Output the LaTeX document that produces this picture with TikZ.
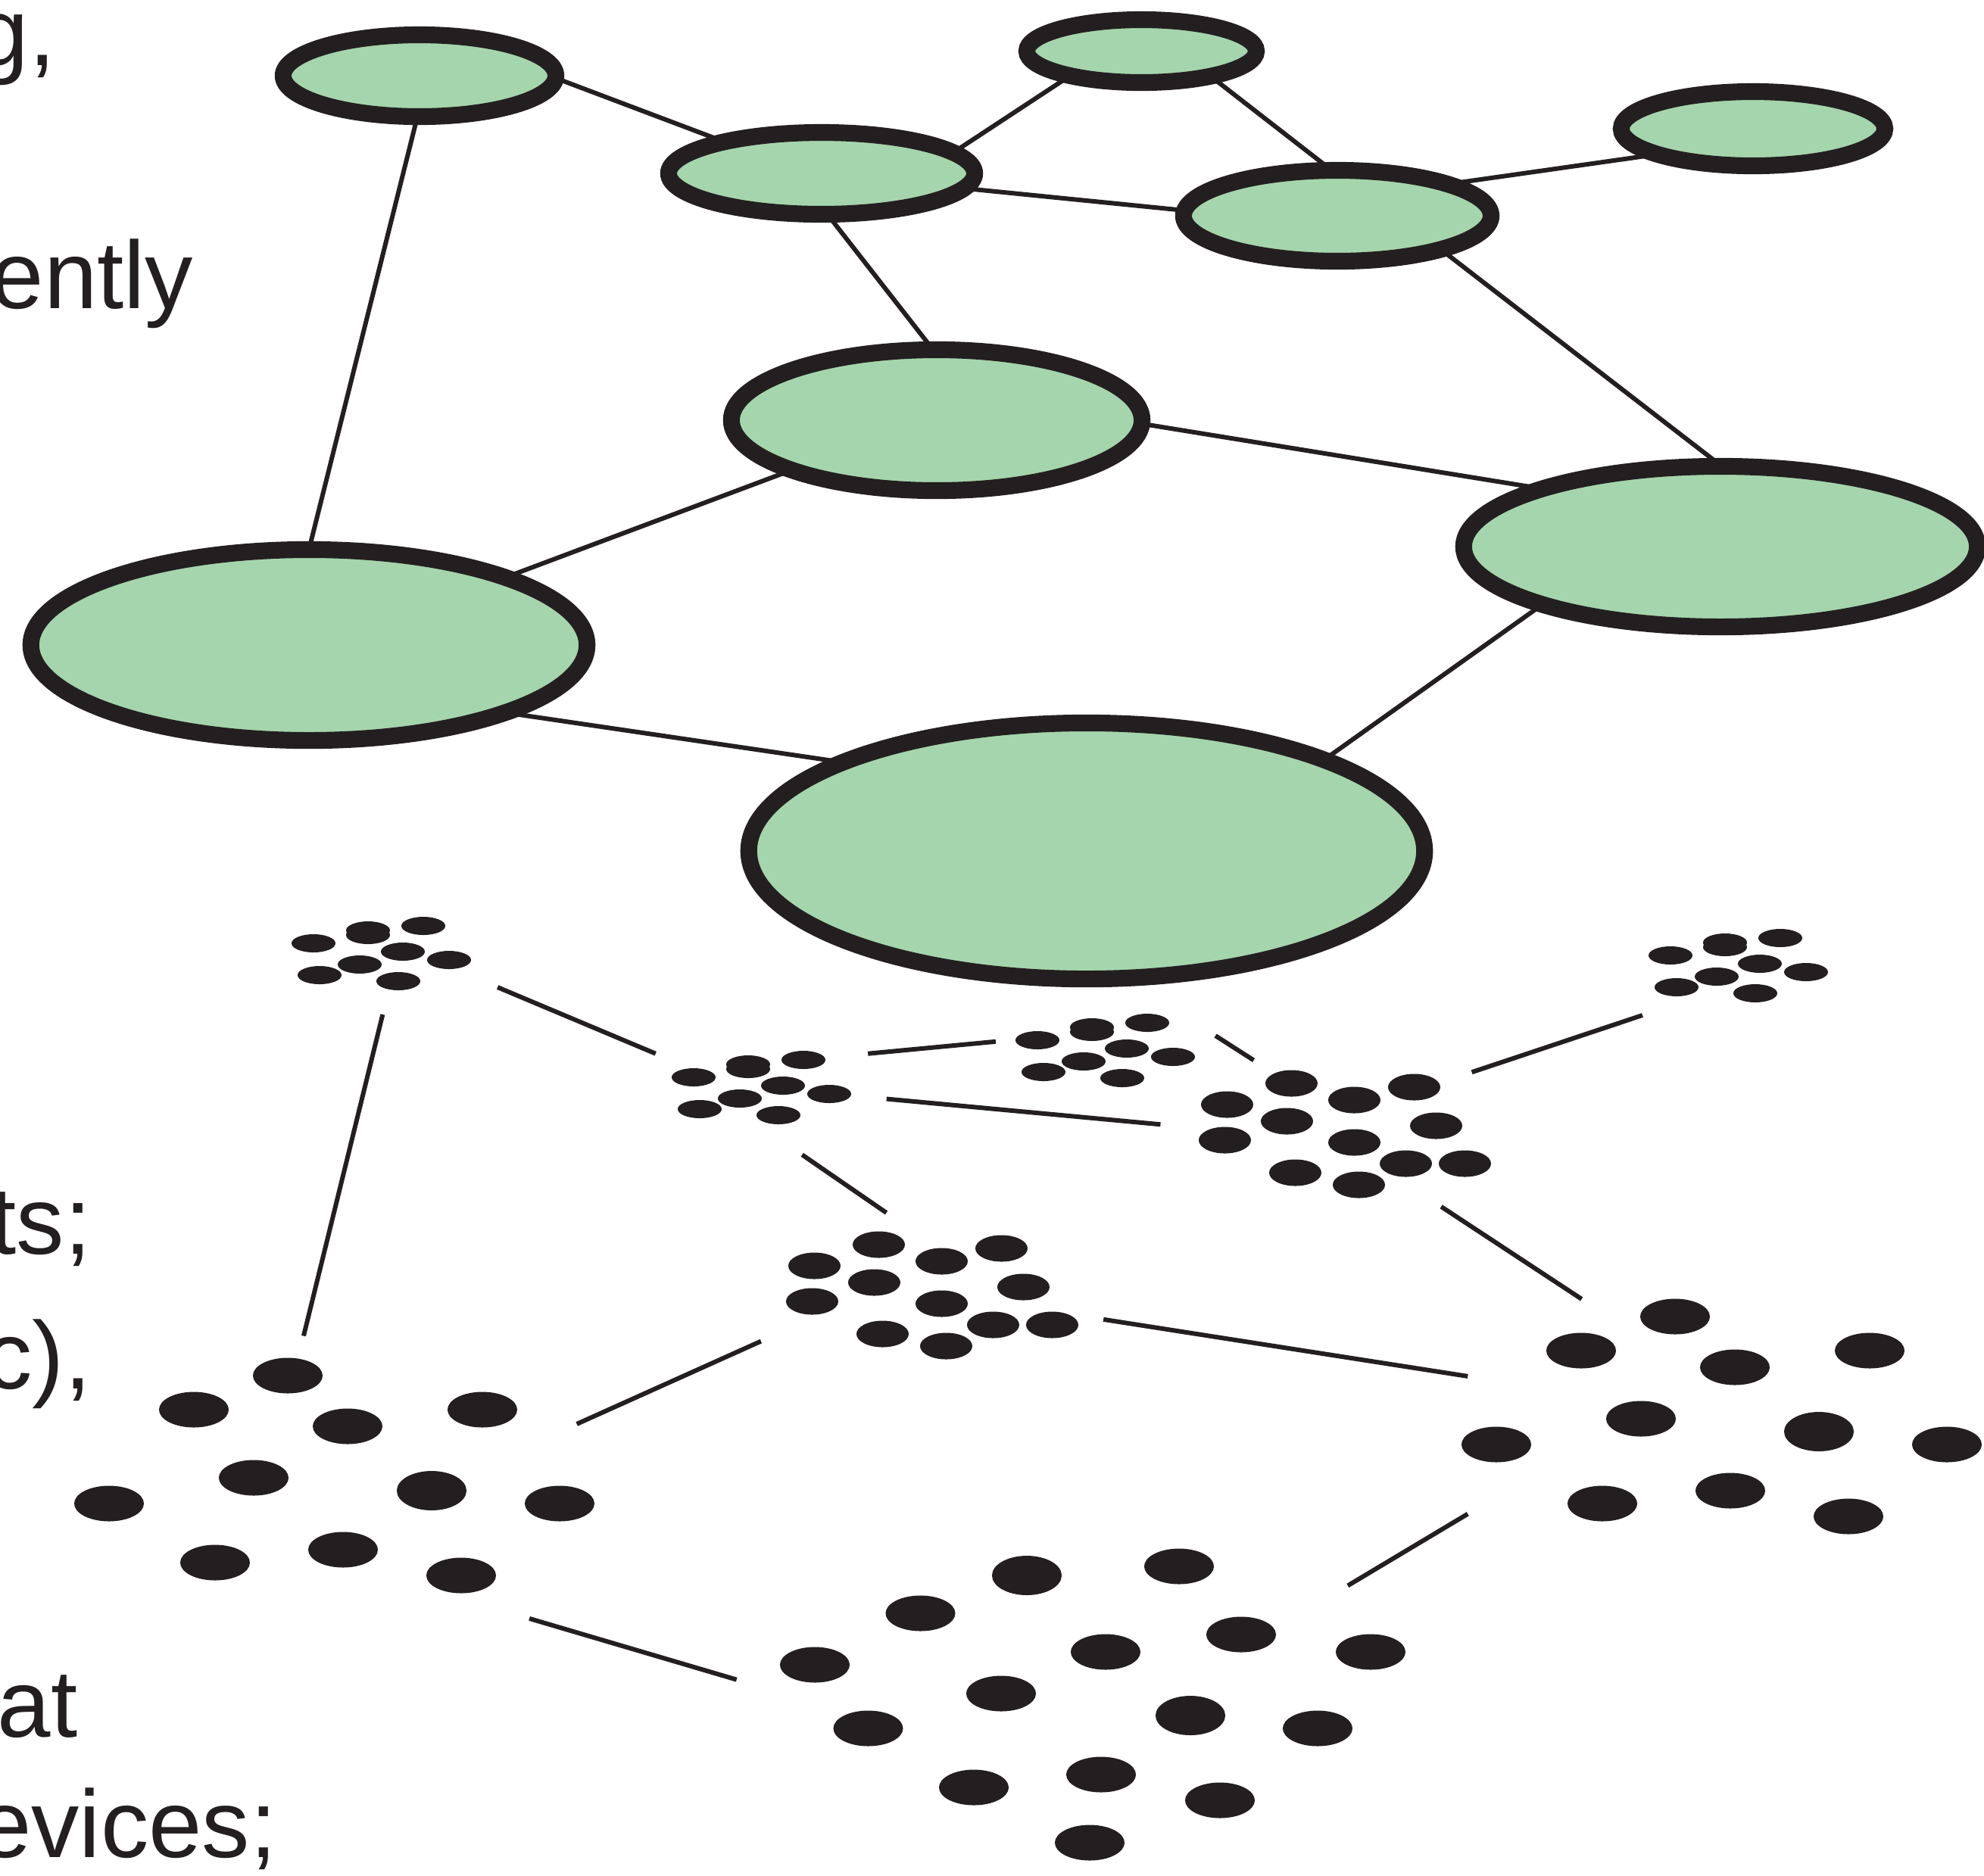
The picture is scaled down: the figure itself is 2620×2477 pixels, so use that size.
\documentclass[tikz,border=0pt]{standalone}
\usepackage{fontspec}
\setmainfont{Liberation Sans}
\usetikzlibrary{shapes.geometric}
\definecolor{ink}{RGB}{35, 31, 32}
\definecolor{leaf}{RGB}{165, 213, 172}
\pgfdeclarelayer{background}
\pgfsetlayers{background,main}
\tikzset{
  pics/fewdots/.style={code={
    \foreach \dx/\dy in {-90/-17, -18/-34, -18/-28, 55/-40, 28/-6, 89/5, -29/11, -82/25, 22/33}
      \fill[ink] (\dx,\dy) ellipse [x radius=0.29cm, y radius=0.12cm];
  }},
  pics/middots/.style={code={
    \foreach \dx/\dy in {-155.5/-39, -70.5/-67, 12.5/-45, 91.5/-62, -76.5/-17, -158.5/8,
                         120.5/-11, 12.5/11, 80.5/39, 158.5/39, -65.5/51, 18.5/67}
      \fill[ink] (\dx,\dy) ellipse [x radius=0.345cm, y radius=0.175cm];
  }},
  pics/bigdots/.style={code={
    \foreach \dx/\dy/\ry in {-61.5/-132/23.5, -185.5/-87/23.5, 17.5/-65/23.5, 195.5/-87/23.5,
                             -106.5/3/23.5, -297.5/37/23.5, 128.5/20/26, 297.5/37/23.5,
                             -157.5/115/23.5, 11.5/98/23.5, 167.5/132/23.5}
      \fill[ink] (\dx,\dy) ellipse [x radius=0.46cm, y radius=\ry*0.01cm];
  }}
}

\begin{document}
\begin{tikzpicture}[x=0.01cm, y=-0.01cm,
    blob/.style={ellipse, draw=ink, fill=leaf, line width=6.3pt, inner sep=0pt, outer sep=0pt},
    link/.style={draw=ink, line width=1.7pt},
    grp/.style={rectangle, inner sep=0pt, outer sep=0pt},
    lbl/.style={anchor=base east, inner sep=0pt, text=ink, font=\fontsize{36}{43}\selectfont}
  ]
    \useasboundingbox (0,0) rectangle (2620,2477);

    % clipped words of the neighbouring column
    \node[lbl] (w1) at (74,86)    {g,};
    \node[lbl] (w2) at (256,407)  {ently};
    \node[lbl] (w3) at (121,1656) {ts;};
    \node[lbl] (w4) at (121,1834) {c),};
    \node[lbl] (w5) at (103,2294) {at};
    \node[lbl] (w6) at (366,2453) {evices;};

    % upper graph
    \node[blob, minimum width=3.60cm, minimum height=1.08cm] (nw)  at (554,100)    {};
    \node[blob, minimum width=3.03cm, minimum height=0.83cm] (n)   at (1507.5,67.5) {};
    \node[blob, minimum width=4.04cm, minimum height=1.08cm] (cw)  at (1085,229)   {};
    \node[blob, minimum width=3.48cm, minimum height=0.98cm] (ne)  at (2315,170)   {};
    \node[blob, minimum width=4.06cm, minimum height=1.20cm] (ce)  at (1766,285)   {};
    \node[blob, minimum width=5.42cm, minimum height=1.86cm] (mid) at (1237,555)   {};
    \node[blob, minimum width=6.78cm, minimum height=2.12cm] (e)   at (2272,722)   {};
    \node[blob, minimum width=7.34cm, minimum height=2.52cm] (w)   at (408,852)    {};
    \node[blob, minimum width=8.92cm, minimum height=3.38cm] (s)   at (1435,1124)  {};

    \begin{pgfonlayer}{background}
      \draw[link] (nw.-1)    -- (cw.162);
      \draw[link] (nw.-93)   -- (w.90);
      \draw[link] (n.-161)   -- (cw.9);
      \draw[link] (n.-20)    -- (ce.97);
      \draw[link] (cw.-6)    -- (ce.178);
      \draw[link] (cw.-82)   -- (mid.93);
      \draw[link] (ne.-165)  -- (ce.16);
      \draw[link] (ce.-18)   -- (e.89);
      \draw[link] (mid.-1)   -- (e.162);
      \draw[link] (mid.-161) -- (w.19);
      \draw[link] (w.-19)    -- (s.160);
      \draw[link] (e.-162)   -- (s.21);
    \end{pgfonlayer}

    % lower graph, one group of dots per node
    \node[grp, minimum width=3.06cm, minimum height=1.54cm] (dnw) at (504,1263) {};
    \node[grp, minimum width=2.90cm, minimum height=0.80cm] (dn)  at (1460,1391) {};
    \node[grp, ellipse, minimum width=3.32cm, minimum height=1.80cm] (dcw) at (1006,1440) {};
    \node[grp, minimum width=2.54cm, minimum height=1.40cm] (dne) at (2296,1279) {};
    \node[grp, ellipse, minimum width=4.90cm, minimum height=2.24cm] (dce) at (1776,1498) {};
    \node[grp, minimum width=4.52cm, minimum height=2.18cm] (dmid) at (1231,1711) {};
    \node[grp, minimum width=6.70cm, minimum height=3.10cm] (de)  at (2273.5,1871) {};
    \node[grp, minimum width=6.40cm, minimum height=3.90cm] (dw)  at (441.5,1949) {};
    \node[grp, minimum width=9.40cm, minimum height=3.14cm] (ds)  at (1443,2251.5) {};

    \pic at (dnw) {fewdots};
    \pic at (dn)  {fewdots};
    \pic at (dcw) {fewdots};
    \pic at (dne) {fewdots};
    \pic at (dce) {middots};
    \pic at (dmid) {middots};
    \pic at (de)  {bigdots};
    \pic at (dw)  {bigdots};
    \begin{scope}[shift={(ds)}]
      \foreach \dx/\dy/\ry in {-87/-170.5/26, 114/-182.5/23.5, -227.5/-120.5/23.5, -367/-52.5/23.5,
                               17/-69.5/23.5, 196/-92.5/23.5, 367/-69.5/23.5, -121/-14.5/23.5,
                               -296.5/31.5/23.5, 129/14.5/26, 297/31.5/23.5, -157/109.5/23.5,
                               11/92.5/23.5, 168/126.5/23.5, -4/182.5/23.5}
        \fill[ink] (\dx,\dy) ellipse [x radius=0.46cm, y radius=\ry*0.01cm];
    \end{scope}

    \draw[link] (dnw.-15)   -- (dcw.161);
    \draw[link, shorten >=-0.11cm] (dnw.-89) -- (dw.101);
    \draw[link] (dn.174)    -- (dcw.19);
    \draw[link] (dn.9)      -- (dce.141);
    \draw[link] (dcw.-4)    -- (dce.177);
    \draw[link] (dcw.-58)   -- (dmid.119);
    \draw[link] (dne.-154)  -- (dce.26);
    \draw[link] (dce.-37)   -- (de.140);
    \draw[link] (dmid.-8)   -- (de.171);
    \draw[link] (dmid.-165) -- (dw.12);
    \draw[link, shorten <=-0.22cm] (dw.-35) -- (ds.176);
    \draw[link] (de.-159)   -- (ds.25);
\end{tikzpicture}
\end{document}
